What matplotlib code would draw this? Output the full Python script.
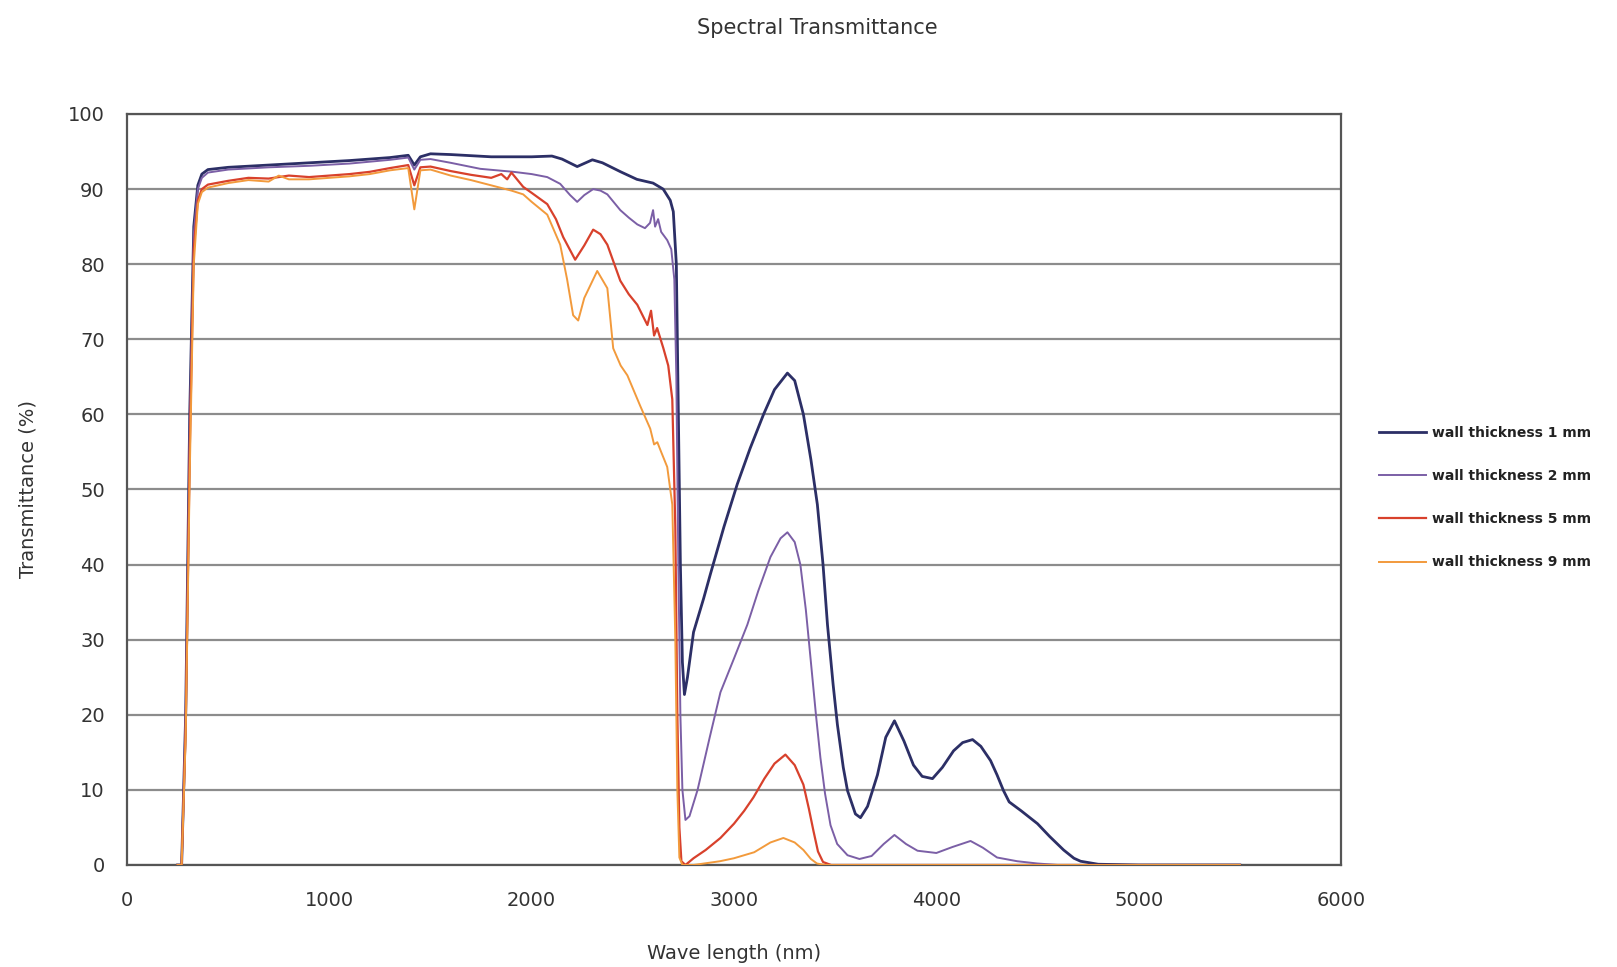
import matplotlib
matplotlib.use("Agg")
import matplotlib.pyplot as plt

# ---- data ----
wl_1mm = [250, 270, 290, 310, 330, 350, 370, 400, 500, 700, 900, 1100, 1300, 1390, 1420, 1450,
          1500, 1600, 1800, 2000, 2100, 2150, 2225, 2300, 2350, 2440, 2520, 2600, 2650, 2685,
          2700, 2715, 2725, 2735, 2745, 2755, 2770, 2800, 2850, 2883, 2950, 3016, 3080, 3146,
          3200, 3264, 3300, 3343, 3380, 3412, 3440, 3462, 3490, 3511, 3540, 3561, 3600, 3625,
          3660, 3709, 3750, 3793, 3840, 3887, 3930, 3981, 4030, 4085, 4130, 4179, 4220, 4268,
          4300, 4332, 4360, 4420, 4500, 4560, 4629, 4680, 4713, 4800, 5000, 5500]
t_1mm = [0, 0, 20, 60, 85, 90.5, 92, 92.6, 92.9, 93.2, 93.5, 93.8, 94.2, 94.5, 93.2, 94.3,
         94.7, 94.6, 94.3, 94.3, 94.4, 94.0, 93.0, 93.9, 93.5, 92.3, 91.3, 90.8, 90.0, 88.5,
         87, 80, 60, 40, 27, 22.7, 25, 31, 35.5, 38.7, 45, 50.7, 55.5, 60,
         63.3, 65.5, 64.5, 60, 54, 48, 40, 32, 24, 18.7, 13, 9.9, 6.8, 6.3,
         7.8, 12, 17, 19.2, 16.5, 13.3, 11.8, 11.5, 13, 15.2, 16.3, 16.7, 15.8, 13.9,
         12, 9.9, 8.4, 7.2, 5.5, 3.8, 2, 0.9, 0.5, 0.1, 0, 0]

wl_2mm = [250, 270, 290, 310, 330, 350, 370, 400, 500, 700, 900, 1100, 1300, 1390, 1420, 1450,
          1500, 1600, 1746, 1910, 2000, 2077, 2141, 2190, 2225, 2260, 2304, 2340, 2374, 2438,
          2480, 2522, 2560, 2585, 2600, 2610, 2625, 2640, 2670, 2690, 2705, 2715, 2725, 2735,
          2745, 2760, 2780, 2820, 2880, 2933, 3000, 3066, 3120, 3180, 3230, 3264, 3300, 3328,
          3355, 3378, 3405, 3427, 3450, 3477, 3510, 3561, 3620, 3680, 3740, 3793, 3850, 3907,
          4000, 4080, 4169, 4230, 4300, 4400, 4500, 4600, 5500]
t_2mm = [0, 0, 20, 58, 84, 90, 91.5, 92.2, 92.6, 92.9, 93.1, 93.4, 93.9, 94.2, 92.6, 93.9,
         94.0, 93.5, 92.7, 92.3, 92.0, 91.6, 90.7, 89.2, 88.3, 89.2, 90, 89.8, 89.3, 87.2,
         86.2, 85.3, 84.8, 85.5, 87.2, 85, 86, 84.3, 83.2, 82, 78, 65, 40, 20,
         10, 6, 6.5, 10, 17, 23, 27.5, 32, 36.5, 41, 43.5, 44.3, 43, 40,
         34, 27.6, 20, 14.3, 9.5, 5.3, 2.8, 1.3, 0.8, 1.2, 2.8, 4, 2.8, 1.9,
         1.6, 2.4, 3.2, 2.3, 1.0, 0.5, 0.2, 0, 0]

wl_5mm = [250, 270, 290, 310, 330, 350, 370, 400, 500, 600, 700, 800, 900, 1000, 1100, 1200,
          1300, 1390, 1420, 1450, 1500, 1600, 1700, 1800, 1850, 1879, 1900, 1958, 2000, 2077,
          2120, 2156, 2215, 2260, 2304, 2340, 2374, 2438, 2480, 2522, 2572, 2590, 2605, 2620,
          2651, 2675, 2695, 2710, 2720, 2730, 2740, 2760, 2800, 2860, 2933, 3000, 3050, 3096,
          3150, 3200, 3254, 3300, 3343, 3370, 3393, 3415, 3440, 3480, 5500]
t_5mm = [0, 0, 18, 55, 82, 88.5, 90, 90.6, 91.1, 91.5, 91.4, 91.8, 91.6, 91.8, 92.0, 92.3,
         92.8, 93.2, 90.5, 92.9, 93.0, 92.4, 91.9, 91.5, 92, 91.3, 92.2, 90.3, 89.5, 88,
         86, 83.6, 80.6, 82.5, 84.6, 84, 82.6, 77.8, 76, 74.6, 71.9, 73.8, 70.5, 71.5,
         68.8, 66.5, 62, 45, 20, 5, 0.5, 0, 0.9, 2, 3.6, 5.5, 7.2, 9,
         11.5, 13.5, 14.7, 13.3, 10.7, 7.5, 4.5, 1.8, 0.4, 0, 0]

wl_9mm = [250, 270, 290, 310, 330, 350, 370, 400, 500, 600, 700, 750, 800, 900, 1000, 1100,
          1200, 1300, 1390, 1420, 1450, 1500, 1600, 1700, 1800, 1900, 1958, 2000, 2077, 2141,
          2175, 2205, 2230, 2260, 2324, 2374, 2403, 2440, 2473, 2537, 2586, 2605, 2621, 2640,
          2670, 2695, 2710, 2720, 2730, 2745, 2800, 2930, 3000, 3100, 3180, 3244, 3300, 3343,
          3380, 3410, 3450, 5500]
t_9mm = [0, 0, 17, 52, 80, 88, 89.6, 90.2, 90.8, 91.2, 91.0, 91.8, 91.3, 91.3, 91.5, 91.7,
         92, 92.5, 92.8, 87.3, 92.5, 92.6, 91.8, 91.2, 90.5, 89.8, 89.3, 88.3, 86.6, 82.6,
         78, 73.2, 72.5, 75.5, 79.1, 76.8, 68.8, 66.5, 65.2, 61.1, 58.1, 56, 56.3, 55,
         53, 48, 30, 10, 1, 0, 0, 0.5, 0.9, 1.7, 3.0, 3.6, 3, 2,
         0.8, 0.2, 0, 0]

labels = ["wall thickness 1 mm", "wall thickness 2 mm", "wall thickness 5 mm", "wall thickness 9 mm"]
colors = ["#2c2f66", "#7b5fa6", "#d8412c", "#f29a3c"]
widths = [2.0, 1.4, 1.6, 1.4]

x_ticks = [0, 1000, 2000, 3000, 4000, 5000, 6000]
y_ticks = [0, 10, 20, 30, 40, 50, 60, 70, 80, 90, 100]

# ---- figure ----
plt.rcParams['font.family'] = ['DejaVu Sans']
fig = plt.figure(figsize=(16.17, 9.67), dpi=100)
ax = fig.add_axes([127/1617, 1-865/967, (1341-127)/1617, (865-114)/967])

series = [(wl_1mm, t_1mm), (wl_2mm, t_2mm), (wl_5mm, t_5mm), (wl_9mm, t_9mm)]
order = [3, 2, 1, 0]
handles = [None]*4
for i in order:
    x, y = series[i]
    h, = ax.plot(x, y, color=colors[i], lw=widths[i], label=labels[i], zorder=3+i*0.1,
                 solid_joinstyle='round')
    handles[i] = h

ax.set_xlim(0, 6000)
ax.set_ylim(0, 100)
ax.set_xticks(x_ticks)
ax.set_yticks(y_ticks)
ax.yaxis.grid(True, color="#8c8c8c", lw=1.6)
ax.set_axisbelow(True)
ax.tick_params(axis='both', length=0, labelsize=14, colors="#333333")
ax.tick_params(axis='x', pad=19)
ax.tick_params(axis='y', pad=16)
for s in ax.spines.values():
    s.set_color("#555555")
    s.set_linewidth(1.6)

ax.set_xlabel("Wave length (nm)", fontsize=14, color="#333333", labelpad=24)
ax.set_ylabel("Transmittance (%)", fontsize=14, color="#333333", labelpad=22)

fig.text(817/1617, 1-28/967, "Spectral Transmittance", ha='center', va='center',
         fontsize=15, color="#333333")

leg = fig.legend(handles=handles, labels=labels, loc='upper left',
                 bbox_to_anchor=(1372/1617, 1-419/967), frameon=False, borderpad=0,
                 handlelength=3.4, handletextpad=0.45, labelspacing=2.1,
                 prop={'size': 10, 'weight': 'bold'})
for t in leg.get_texts():
    t.set_color("#222222")

fig.savefig("out.png", dpi=100, facecolor="white")
